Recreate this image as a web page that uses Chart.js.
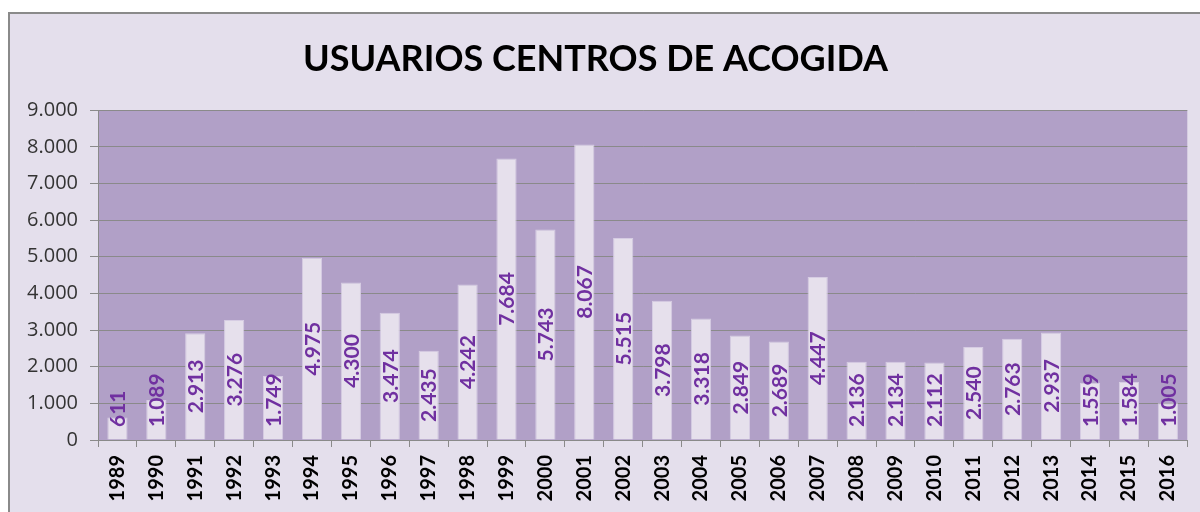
<!DOCTYPE html>
<html><head><meta charset="utf-8">
<script src="https://cdn.jsdelivr.net/npm/chart.js@4/dist/chart.umd.min.js"></script>
<style>html,body{margin:0;padding:0;background:#fff;}#wrap{position:absolute;left:0;top:0;width:1200px;height:512px;}</style>
</head><body><div id="wrap"><canvas id="c" width="1200" height="512"></canvas></div>
<script>
const years = ["1989","1990","1991","1992","1993","1994","1995","1996","1997","1998","1999","2000","2001","2002","2003","2004","2005","2006","2007","2008","2009","2010","2011","2012","2013","2014","2015","2016"];
const usuarios = [611,1089,2913,3276,1749,4975,4300,3474,2435,4242,7684,5743,8067,5515,3798,3318,2849,2689,4447,2136,2134,2112,2540,2763,2937,1559,1584,1005];
const titleText = "USUARIOS CENTROS DE ACOGIDA";

const fmt = v => v.toLocaleString('de-DE');
const FONT = "Lato, 'Open Sans', sans-serif";

const bgPlugin = {
  id: 'bg',
  beforeDraw(chart) {
    const ctx = chart.ctx;
    ctx.save();
    ctx.fillStyle = '#ffffff';
    ctx.fillRect(0, 0, 1200, 512);
    ctx.fillStyle = '#E4DFEC';
    ctx.fillRect(9, 13, 1191, 499);
    ctx.strokeStyle = '#8a8a8a';
    ctx.lineWidth = 2;
    ctx.beginPath();
    ctx.moveTo(9, 512); ctx.lineTo(9, 13); ctx.lineTo(1200, 13);
    ctx.stroke();
    const a = chart.chartArea;
    ctx.fillStyle = '#B1A0C7';
    ctx.fillRect(a.left, a.top, a.right - a.left, a.bottom - a.top);
    ctx.restore();
  }
};

const labelPlugin = {
  id: 'vlabels',
  afterDatasetsDraw(chart) {
    const ctx = chart.ctx;
    const meta = chart.getDatasetMeta(0);
    const bottom = chart.chartArea.bottom;
    ctx.save();
    ctx.font = "bold 21px " + FONT;
    ctx.fillStyle = '#7030A0';
    ctx.textAlign = 'center';
    ctx.textBaseline = 'middle';
    meta.data.forEach((bar, i) => {
      const txt = fmt(usuarios[i]);
      const w = ctx.measureText(txt).width;
      let cy = (bar.y + bar.base) / 2;
      const maxY = bottom - 13 - w / 2;
      if (cy > maxY) cy = maxY;
      ctx.save();
      ctx.translate(bar.x + 1, cy);
      ctx.rotate(-Math.PI / 2);
      ctx.fillText(txt, 0, 0);
      ctx.restore();
    });
    ctx.restore();
  }
};

new Chart(document.getElementById('c'), {
  type: 'bar',
  data: {
    labels: years,
    datasets: [{
      data: usuarios,
      backgroundColor: '#E6E0EC',
      borderColor: '#D6CCE3',
      borderWidth: 1,
      barPercentage: 0.52,
      categoryPercentage: 1.0
    }]
  },
  options: {
    responsive: false,
    animation: false,
    layout: { padding: { top: 12, right: 9, left: 0, bottom: 0 } },
    plugins: {
      legend: { display: false },
      tooltip: { enabled: false },
      title: {
        display: true,
        text: titleText,
        color: '#000000',
        font: { family: FONT, size: 36, weight: 'bold', lineHeight: 1.2 },
        padding: { top: 26, bottom: 29 }
      }
    },
    scales: {
      x: {
        grid: { drawOnChartArea: false, drawTicks: true, tickLength: 7, color: '#8a8a8a' },
        border: { color: '#8a8a8a' },
        ticks: { minRotation: 90, maxRotation: 90, autoSkip: false, color: '#000', padding: 8,
                 font: { family: FONT, size: 20, weight: 'bold' } },
        afterFit(s) { s.height = 72; }
      },
      y: {
        min: 0, max: 9000,
        grid: { color: '#8a8a8a', tickLength: 8 },
        border: { color: '#8a8a8a' },
        ticks: { stepSize: 1000, color: '#333', padding: 12,
                 font: { family: "'Open Sans', sans-serif", size: 20 },
                 callback: v => fmt(v) },
        afterFit(s) { s.width = 98; }
      }
    }
  },
  plugins: [bgPlugin, labelPlugin]
});
</script></body></html>
